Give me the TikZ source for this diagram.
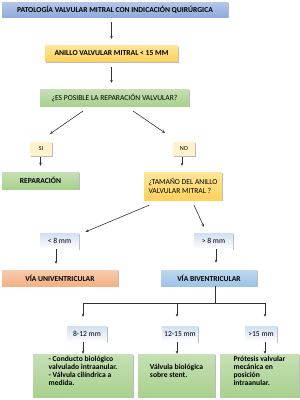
\documentclass[tikz,border=0pt]{standalone}
\usepackage{fontspec}
\setmainfont{Carlito}
\usetikzlibrary{arrows.meta, shadows}
\definecolor{azulT}{HTML}{8FAADC}
\definecolor{azulC}{HTML}{B4C7E7}
\definecolor{naranjaT}{HTML}{FFD15C}
\definecolor{naranjaC}{HTML}{FFE699}
\definecolor{verdeT}{HTML}{A9D18E}
\definecolor{verdeC}{HTML}{C5E0B4}
\definecolor{salmonT}{HTML}{F4B183}
\definecolor{salmonC}{HTML}{F8CBAD}
\definecolor{celesteT}{HTML}{9DC3E6}
\definecolor{celesteC}{HTML}{BDD7EE}
\definecolor{crema}{HTML}{FFF2CC}
\definecolor{hielo}{HTML}{CFDFF3}

\begin{document}
\begin{tikzpicture}[x=1pt, y=-1pt,
        font=\fontsize{7.6}{7.9}\selectfont,
        negrita/.style={font=\fontsize{7.6}{7.9}\selectfont\bfseries},
        caja/.style={rectangle, inner sep=2pt, align=center,
            drop shadow={shadow xshift=1pt, shadow yshift=-1.2pt, fill=black!60, opacity=0.45}},
        titulo/.style={caja, top color=azulC, bottom color=azulT, negrita},
        naranja/.style={caja, top color=naranjaC, bottom color=naranjaT},
        verde/.style={caja, top color=verdeC, bottom color=verdeT},
        salmon/.style={caja, top color=salmonC, bottom color=salmonT, negrita},
        celeste/.style={caja, top color=celesteC, bottom color=celesteT, negrita},
        resp/.style={caja, fill=crema, minimum width=22pt, minimum height=14pt, font=\fontsize{6.2}{7}\selectfont},
        medida/.style={caja, top color=hielo, bottom color=white, minimum height=16pt},
        opcion/.style={verde, negrita, align=left, minimum height=43pt, text depth=9pt},
        linea/.style={draw=black!80, line width=0.6pt},
        arr/.style={linea, -{Stealth[length=3pt, width=2.6pt]}}
    ]
    \useasboundingbox (0,0) rectangle (300,400);

    \node[titulo, minimum width=226pt, minimum height=15pt] (pat) at (115,9.5) {PATOLOGÍA VALVULAR MITRAL CON INDICACIÓN QUIRÚRGICA};
    \node[naranja, negrita, minimum width=133pt, minimum height=16pt] (anillo) at (111.5,53.5) {ANILLO VALVULAR MITRAL < 15 MM};
    \node[verde, minimum width=149pt, minimum height=17pt] (repar) at (114.5,97.5) {¿ES POSIBLE LA REPARACIÓN VALVULAR?};
    \node[resp] (si) at (41,149) {SI};
    \node[resp] (no) at (184,149) {NO};
    \node[verde, negrita, minimum width=77pt, minimum height=17pt] (reparac) at (40.5,180.5) {REPARACIÓN};
    \node[naranja, align=left, minimum width=78pt, minimum height=28pt, font=\fontsize{7.6}{9}\selectfont] (tam) at (183,186) {¿TAMAÑO DEL ANILLO\\VALVULAR MITRAL ?};
    \node[medida, minimum width=39pt] (menor) at (59.5,241) {< 8 mm};
    \node[medida, minimum width=39pt] (mayor) at (213.5,241) {> 8 mm};
    \node[salmon, minimum width=116pt, minimum height=16pt] (univ) at (60,278) {VÍA UNIVENTRICULAR};
    \node[celeste, minimum width=96pt, minimum height=16pt] (biv) at (209,278) {VÍA BIVENTRICULAR};
    \node[medida, minimum width=40pt] (r1) at (87,334) {8-12 mm};
    \node[medida, minimum width=36pt] (r2) at (180,334) {12-15 mm};
    \node[medida, minimum width=32pt] (r3) at (261,334) {>15 mm};
    \node[opcion, minimum width=100pt] (p1) at (83,375.5) {- Conducto biológico\\valvulado intraanular.\\- Válvula cilíndrica a\\medida.};
    \node[opcion, minimum width=77pt] (p2) at (176.5,375.5) {Válvula biológica\\sobre stent.};
    \node[opcion, minimum width=79pt] (p3) at (259.5,375.5) {Prótesis valvular\\mecánica en\\posición\\intraanular.};

    \coordinate (ramaA) at (83,303);
    \coordinate (ramaB) at (177,303);
    \coordinate (ramaC) at (265,303);

    \draw[arr, shorten <=5pt, shorten >=6.5pt] (pat.south -| anillo.north) -- (anillo.north);
    \draw[arr, shorten <=5.5pt, shorten >=6pt] (anillo.south) -- (anillo.south |- repar.north);
    \draw[arr, shorten <=8.7pt, shorten >=14pt] ([xshift=-24.5pt]repar.south) -- ([xshift=-2.5pt]si.north);
    \draw[arr, shorten <=8.8pt, shorten >=15.8pt] ([xshift=11.5pt]repar.south) -- ([xshift=-6pt]no.north);
    \draw[arr, shorten <=1pt, shorten >=6pt] (si.south -| reparac.north) -- (reparac.north);
    \draw[arr, shorten <=1pt, shorten >=6pt] ([xshift=-2pt]no.south) -- ([xshift=-2pt]no.south |- tam.north);
    \draw[arr, shorten <=12.8pt, shorten >=2.6pt] ([xshift=-22pt]tam.south) -- ([xshift=4pt]menor.north east);
    \draw[arr, shorten <=5.5pt, shorten >=6.6pt] ([xshift=8.7pt]tam.south) -- ([xshift=-6.8pt]mayor.north);
    \draw[arr, shorten >=6pt] ([xshift=-3.5pt]menor.south) -- ([xshift=-3.5pt]menor.south |- univ.north);
    \draw[arr, shorten >=7pt] ([xshift=2.5pt]mayor.south) -- ([xshift=2.5pt]mayor.south |- biv.north);

    \draw[linea] ([xshift=6.7pt]biv.south) -- ([xshift=6.7pt]biv.south |- ramaB);
    \draw[linea] (ramaA) -- (ramaC);
    \draw[arr, shorten >=9pt] (ramaA) -- (ramaA |- r1.north);
    \draw[arr, shorten >=9pt] (ramaB) -- (ramaB |- r2.north);
    \draw[arr, shorten >=9pt] (ramaC) -- (ramaC |- r3.north);
    \draw[arr] (r1.south -| ramaA) -- (ramaA |- p1.north);
    \draw[arr] (r2.south -| ramaB) -- (ramaB |- p2.north);
    \draw[arr] (r3.south -| ramaC) -- (ramaC |- p3.north);
\end{tikzpicture}
\end{document}
